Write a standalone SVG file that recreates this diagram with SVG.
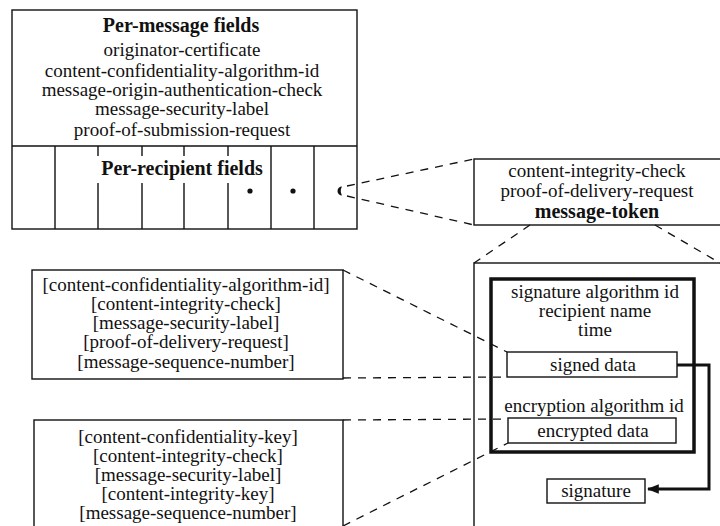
<svg xmlns="http://www.w3.org/2000/svg" width="720" height="526" viewBox="0 0 720 526">
<defs>
<style>
.box{fill:none;stroke:#111;stroke-width:1.4}
.thick{fill:none;stroke:#111;stroke-width:3.5}
.t{font-family:"Liberation Serif","Times New Roman",serif;font-size:19px;fill:#111;text-anchor:middle}
.b{font-weight:bold;font-size:20px}
.dash{fill:none;stroke:#111;stroke-width:1.3;stroke-dasharray:8 7}
.arrow{fill:none;stroke:#111;stroke-width:3}
</style>
<marker id="ah" viewBox="0 0 10 10" refX="9" refY="5" markerWidth="4" markerHeight="4" orient="auto" markerUnits="strokeWidth">
<path d="M0,1 L10,5 L0,9 z" fill="#111"/>
</marker>
</defs>
<rect width="720" height="526" fill="#fff"/>

<g id="per-message">
<rect class="box" x="12" y="10" width="345" height="219"/>
<line class="box" x1="12" y1="146" x2="357" y2="146"/>
<text class="t b" x="181" y="32">Per-message fields</text>
<text class="t" x="182" y="56">originator-certificate</text>
<text class="t" x="182" y="77">content-confidentiality-algorithm-id</text>
<text class="t" x="182" y="96">message-origin-authentication-check</text>
<text class="t" x="182" y="115">message-security-label</text>
<text class="t" x="182" y="136">proof-of-submission-request</text>
</g>

<g id="per-recipient">
<line class="box" x1="55" y1="146" x2="55" y2="229"/>
<line class="box" x1="98" y1="146" x2="98" y2="156"/>
<line class="box" x1="98" y1="183" x2="98" y2="229"/>
<line class="box" x1="142" y1="146" x2="142" y2="156"/>
<line class="box" x1="142" y1="183" x2="142" y2="229"/>
<line class="box" x1="184" y1="146" x2="184" y2="156"/>
<line class="box" x1="184" y1="183" x2="184" y2="229"/>
<line class="box" x1="228" y1="146" x2="228" y2="156"/>
<line class="box" x1="228" y1="183" x2="228" y2="229"/>
<line class="box" x1="271" y1="146" x2="271" y2="229"/>
<line class="box" x1="314" y1="146" x2="314" y2="229"/>
<text class="t b" x="182" y="175">Per-recipient fields</text>
<circle cx="250" cy="191" r="2.6" fill="#111"/>
<circle cx="293" cy="191" r="2.6" fill="#111"/>
<path d="M342,186.5 A4.5,4.5 0 0 0 342,195.5 Q339.5,191 342,186.5 Z" fill="#111"/>
</g>

<g id="recipient-info">
<rect class="box" x="474" y="159" width="260" height="66"/>
<text class="t" x="597" y="177">content-integrity-check</text>
<text class="t" x="597" y="197">proof-of-delivery-request</text>
<text class="t b" x="597" y="218">message-token</text>
</g>

<g id="signed-fields">
<rect class="box" x="32" y="270" width="311" height="109"/>
<text class="t" x="186" y="291">[content-confidentiality-algorithm-id]</text>
<text class="t" x="186" y="310">[content-integrity-check]</text>
<text class="t" x="186" y="329">[message-security-label]</text>
<text class="t" x="186" y="348">[proof-of-delivery-request]</text>
<text class="t" x="186" y="368">[message-sequence-number]</text>
</g>

<g id="encrypted-fields">
<rect class="box" x="34" y="420" width="309" height="120"/>
<text class="t" x="188" y="443">[content-confidentiality-key]</text>
<text class="t" x="188" y="462">[content-integrity-check]</text>
<text class="t" x="188" y="481">[message-security-label]</text>
<text class="t" x="188" y="500">[content-integrity-key]</text>
<text class="t" x="188" y="519">[message-sequence-number]</text>
</g>

<g id="message-token">
<rect class="box" x="474" y="263" width="260" height="280"/>
</g>

<g id="signed-part">
<rect class="thick" x="491" y="279" width="203" height="173"/>
<text class="t" x="595" y="298">signature algorithm id</text>
<text class="t" x="595" y="317">recipient name</text>
<text class="t" x="595" y="336">time</text>
<text class="t" x="594" y="412">encryption algorithm id</text>
</g>

<g id="signed-data">
<rect class="box" x="507" y="352" width="170" height="25"/>
<text class="t" x="593" y="371">signed data</text>
</g>

<g id="encrypted-data">
<rect class="box" x="508" y="418" width="168" height="25"/>
<text class="t" x="593" y="437">encrypted data</text>
</g>

<g id="signature">
<rect class="box" x="547" y="479" width="98" height="24"/>
<text class="t" x="596" y="497">signature</text>
</g>

<g id="connectors">
<line class="dash" x1="347" y1="186" x2="474" y2="159"/>
<line class="dash" x1="347" y1="196" x2="474" y2="225"/>
<line class="dash" x1="530" y1="225" x2="474" y2="263"/>
<line class="dash" x1="655" y1="225" x2="720" y2="263"/>
<line class="dash" x1="343" y1="270" x2="507" y2="352"/>
<line class="dash" x1="343" y1="378" x2="507" y2="377"/>
<line class="dash" x1="343" y1="420" x2="508" y2="419"/>
<line class="dash" x1="343" y1="526" x2="508" y2="443"/>
<path class="arrow" d="M677,365 H709 V489 H648" marker-end="url(#ah)"/>
</g>
</svg>
